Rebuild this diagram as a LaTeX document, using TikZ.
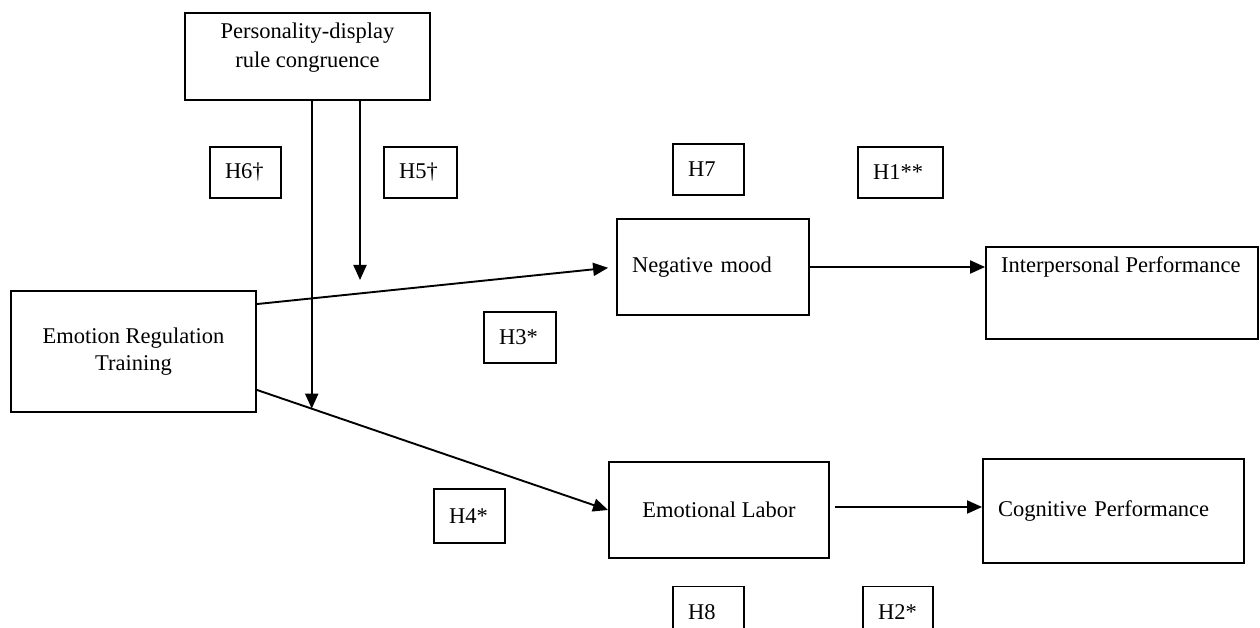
\documentclass[tikz,border=0pt]{standalone}
\usepackage{fontspec}
\setmainfont{Liberation Serif}
\usetikzlibrary{arrows.meta,calc}
\begin{document}
\begin{tikzpicture}[x=1pt,y=-1pt,
  every node/.style={font=\fontsize{22.5}{27}\selectfont},
  box/.style={draw,line width=1.9pt,inner sep=0pt,align=center},
  hyp/.style={draw,line width=1.9pt,inner xsep=15pt,inner ysep=0pt,align=left,minimum height=51pt},
  txt/.style={inner sep=0pt},
  arr/.style={line width=1.9pt,-{Triangle[length=15pt,width=13pt]}}]
\useasboundingbox (0,0) rectangle (1260,628);

% main construct boxes
\node[box,minimum width=245pt,minimum height=87pt] (pdr) at (307.5,56.5) {};
\node[txt,align=center,font=\fontsize{22.5}{29}\selectfont] (pdrtext) at (307.5,48) {Personality-display\\rule congruence};
\node[box,minimum width=245pt,minimum height=121pt] (ert) at (133.5,351.5) {Emotion Regulation\\Training};
\node[box,minimum width=192pt,minimum height=96pt,text width=162pt,inner xsep=15pt,align=left] (nm) at (713,267) {Negative mood};
\node[box,minimum width=272pt,minimum height=92pt] (ip) at (1122,293) {};
\node[txt,anchor=west] (iptext) at (1001,267) {Interpersonal Performance};
\node[box,minimum width=220pt,minimum height=96pt] (el) at (719,510) {Emotional Labor};
\node[box,minimum width=261pt,minimum height=104pt,text width=231pt,inner xsep=15pt,align=left] (cp) at (1113.5,511) {Cognitive Performance};

% hypothesis labels
\node[hyp,text width=41pt] (h6) at (245.5,172.5) {H6†};
\node[hyp,text width=43pt] (h5) at (420.5,172.5) {H5†};
\node[hyp,text width=41pt] (h7) at (708.5,169.5) {H7};
\node[hyp,text width=55pt] (h1) at (900.5,172.5) {H1**};
\node[hyp,text width=42pt] (h3) at (520,337.5) {H3*};
\node[hyp,text width=41pt,minimum height=54pt] (h4) at (469.5,516) {H4*};
\node[hyp,text width=41pt] (h8) at (708.5,612) {H8};
\node[hyp,text width=40pt] (h2) at (898,612) {H2*};

% paths from the training box
\coordinate (upstart) at ($(ert.north east)+(0,14)$);
\coordinate (lowstart) at ($(ert.south east)+(0,-23)$);
\draw[arr,shorten >=8pt] (upstart) -- (nm.west);
\draw[arr] (lowstart) -- (el.west);
\path (lowstart) -- (el.west) coordinate[pos=0.156] (m6);

% moderation arrows from the congruence box
\coordinate (h5tip) at (360,280);
\draw[arr] (pdr.south -| m6) -- (m6);
\draw[arr] (pdr.south -| h5tip) -- (h5tip);

% outcome paths
\draw[arr] (nm.east) -- (ip.west |- nm.east);
\draw[arr,shorten <=5pt] ($(el.east)+(0,-3)$) -- (cp.west |- {$(el.east)+(0,-3)$});
\end{tikzpicture}
\end{document}
